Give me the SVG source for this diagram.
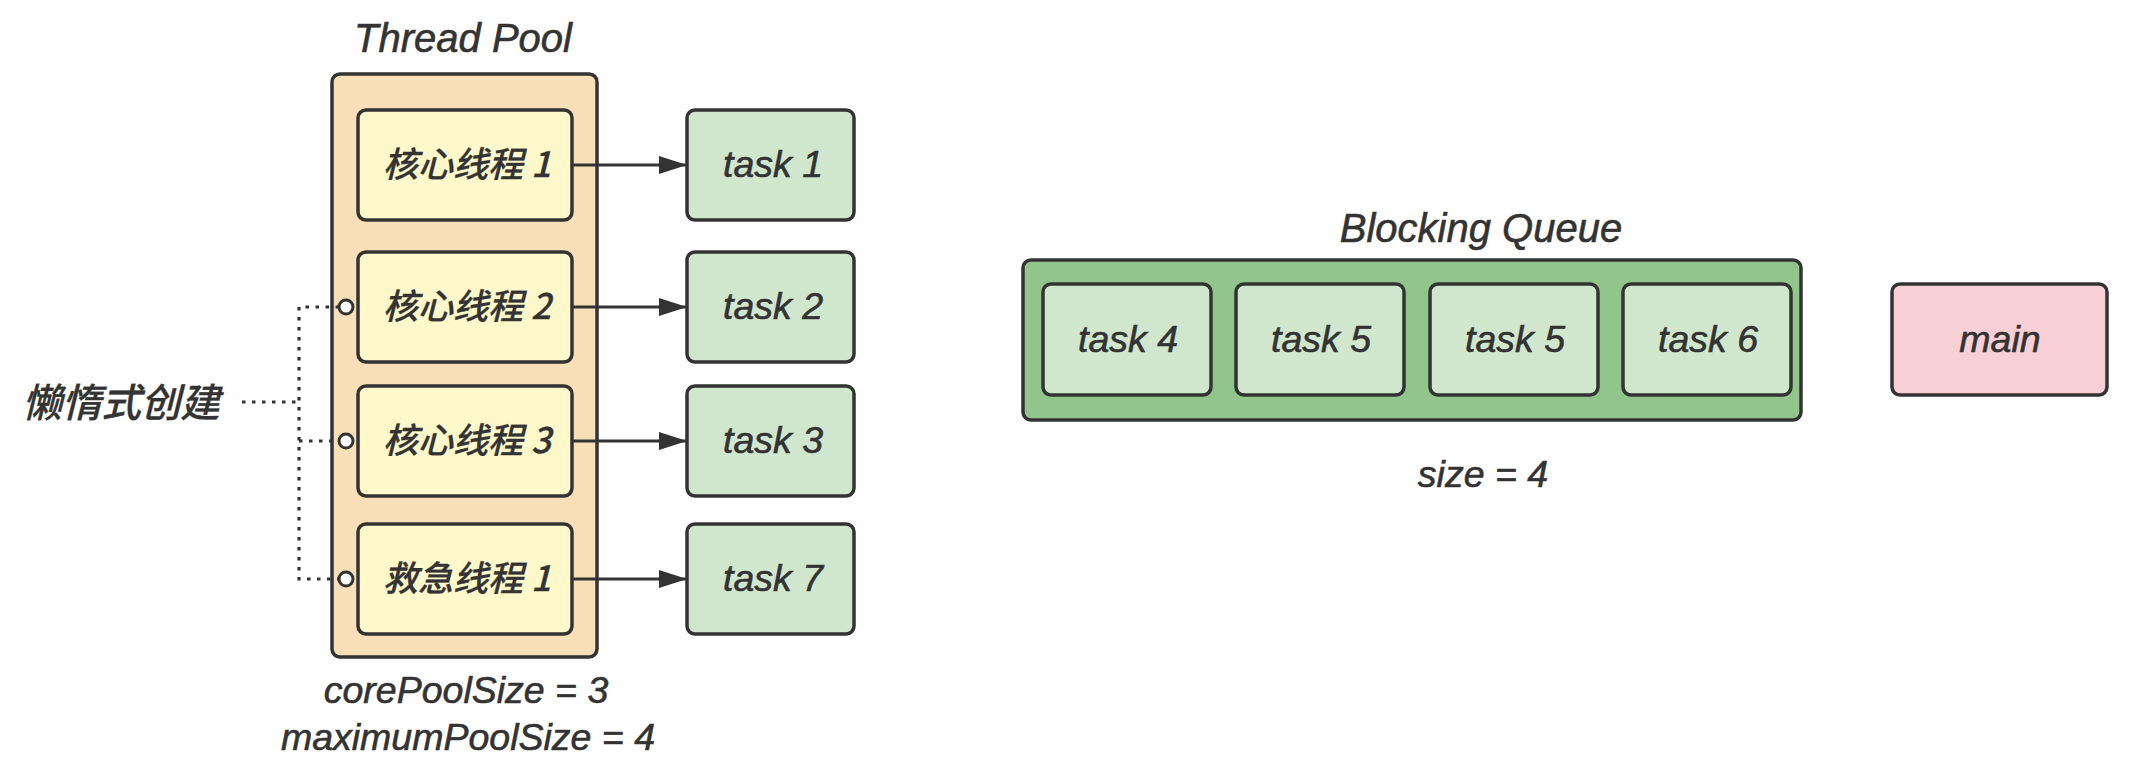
<svg xmlns="http://www.w3.org/2000/svg" width="2138" height="770" viewBox="0 0 2138 770">
<defs>
<style>
.box{stroke:#333333;stroke-width:3.5}
.pool{fill:#f9dfb7}
.thr{fill:#fef8cb}
.task{fill:#d0e6cd}
.queue{fill:#92c58b}
.main{fill:#f7cfd4}
text{font-family:"Liberation Sans","Noto Sans CJK SC",sans-serif;font-style:italic;fill:#333333;stroke:#333333;stroke-width:0.6;text-anchor:middle}
.lbl{font-size:37.5px}
.ttl{font-size:40px}
.cn{font-family:"Noto Sans CJK SC","Liberation Sans",sans-serif;font-size:35px;font-weight:500;stroke-width:0.3}
.arrow{stroke:#333333;stroke-width:3;fill:none}
.dot{stroke:#333333;stroke-width:3.2;fill:none;stroke-dasharray:3.5 6.5}
.knob{fill:#ffffff;stroke:#333333;stroke-width:3}
</style>
<marker id="ahb" markerWidth="28" markerHeight="18" refX="28" refY="9" orient="auto" markerUnits="userSpaceOnUse">
<path d="M0 0 L28 9 L0 18 Z" fill="#333333"/>
</marker>
</defs>
<rect width="2138" height="770" fill="#ffffff"/>

<g id="thread-pool">
<rect class="box pool" x="332" y="74" width="265" height="583" rx="8"/>
<text class="ttl" x="463" y="52">Thread Pool</text>
<text class="lbl" x="466" y="703">corePoolSize = 3</text>
<text class="lbl" x="468" y="750">maximumPoolSize = 4</text>
</g>

<g id="core-thread-1">
<rect class="box thr" x="358" y="110" width="214" height="110" rx="8"/>
<text class="cn" x="467" y="177">核心线程 1</text>
</g>
<g id="core-thread-2">
<rect class="box thr" x="358" y="252" width="214" height="110" rx="8"/>
<text class="cn" x="467" y="319">核心线程 2</text>
</g>
<g id="core-thread-3">
<rect class="box thr" x="358" y="386" width="214" height="110" rx="8"/>
<text class="cn" x="467" y="453">核心线程 3</text>
</g>
<g id="emergency-thread-1">
<rect class="box thr" x="358" y="524" width="214" height="110" rx="8"/>
<text class="cn" x="467" y="591">救急线程 1</text>
</g>

<g id="task-1">
<rect class="box task" x="687" y="110" width="167" height="110" rx="8"/>
<text class="lbl" x="773" y="177">task 1</text>
</g>
<g id="task-2">
<rect class="box task" x="687" y="252" width="167" height="110" rx="8"/>
<text class="lbl" x="773" y="319">task 2</text>
</g>
<g id="task-3">
<rect class="box task" x="687" y="386" width="167" height="110" rx="8"/>
<text class="lbl" x="773" y="453">task 3</text>
</g>
<g id="task-7">
<rect class="box task" x="687" y="524" width="167" height="110" rx="8"/>
<text class="lbl" x="773" y="591">task 7</text>
</g>

<g id="lazy-label">
<text class="cn" x="121" y="417" style="font-size:39.5px">懒惰式创建</text>
</g>

<g id="blocking-queue">
<rect class="box queue" x="1023" y="260" width="778" height="160" rx="8"/>
<text class="ttl" x="1481" y="242">Blocking Queue</text>
<text class="lbl" x="1483" y="487">size = 4</text>
</g>
<g id="queue-task-4">
<rect class="box task" x="1043" y="284" width="168" height="111" rx="8"/>
<text class="lbl" x="1128" y="352">task 4</text>
</g>
<g id="queue-task-5a">
<rect class="box task" x="1236" y="284" width="168" height="111" rx="8"/>
<text class="lbl" x="1321" y="352">task 5</text>
</g>
<g id="queue-task-5b">
<rect class="box task" x="1430" y="284" width="168" height="111" rx="8"/>
<text class="lbl" x="1515" y="352">task 5</text>
</g>
<g id="queue-task-6">
<rect class="box task" x="1623" y="284" width="168" height="111" rx="8"/>
<text class="lbl" x="1708" y="352">task 6</text>
</g>

<g id="main">
<rect class="box main" x="1892" y="284" width="215" height="111" rx="8"/>
<text class="lbl" x="2000" y="352">main</text>
</g>

<g id="connectors">
<line class="arrow" x1="573" y1="165" x2="687" y2="165" marker-end="url(#ahb)"/>
<line class="arrow" x1="573" y1="307" x2="687" y2="307" marker-end="url(#ahb)"/>
<line class="arrow" x1="573" y1="441" x2="687" y2="441" marker-end="url(#ahb)"/>
<line class="arrow" x1="573" y1="579" x2="687" y2="579" marker-end="url(#ahb)"/>
<path class="dot" d="M242 402 H299"/>
<path class="dot" d="M339 307 H299 V579 H339"/>
<path class="dot" d="M299 441 H339"/>
<circle class="knob" cx="346" cy="307" r="7"/>
<circle class="knob" cx="346" cy="441" r="7"/>
<circle class="knob" cx="346" cy="579" r="7"/>
</g>
</svg>
